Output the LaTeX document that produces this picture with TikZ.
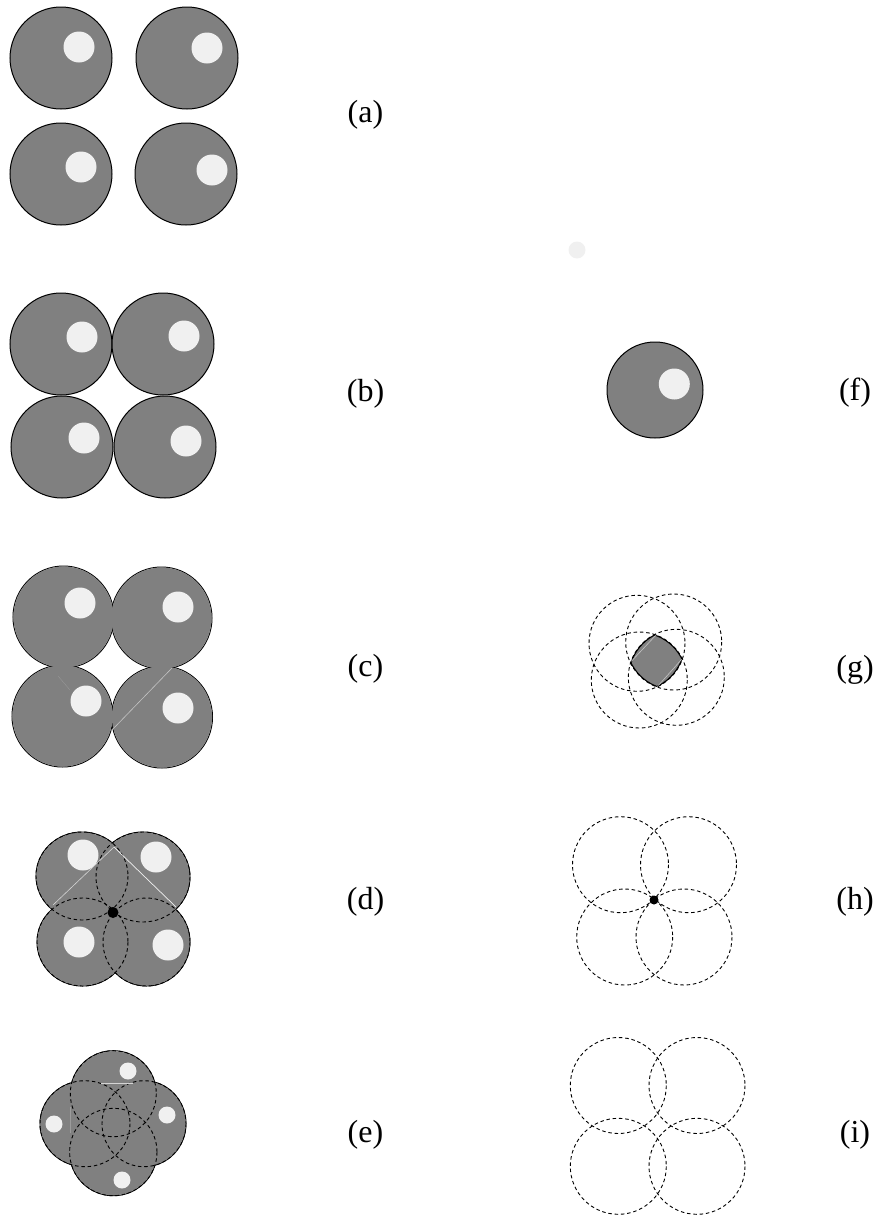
\documentclass[tikz,border=0pt]{standalone}
\usepackage{fontspec}
\setmainfont{Liberation Serif}
\definecolor{ballgray}{HTML}{808080}
\definecolor{spot}{HTML}{F0F0F0}
\tikzset{
 outl/.style={draw=black,line width=1pt},
 inner/.style={fill=ballgray,draw=none},
 dsh/.style={draw=black,line width=0.9pt,dash pattern=on 3.5pt off 2.8pt},
 spotdisk/.style={fill=spot,draw=none},
 lab/.style={font=\fontsize{32}{32}\selectfont,inner sep=0pt,anchor=center},
 seam/.style={draw=spot,line width=0.7pt},
}
\newcommand{\ball}[3]{%
 \fill[ballgray] (#1,#2) circle[radius=#3];
 \draw[outl] (#1,#2) circle[radius=#3];}
\newcommand{\spotat}[3]{\fill[spotdisk] (#1,#2) circle[radius=#3];}
\newcommand{\elo}[4]{\draw[outl] (#1,#2) ellipse[x radius=#3,y radius=#4];}
\newcommand{\elf}[4]{\fill[inner] (#1,#2) ellipse[x radius=#3-0.4,y radius=#4-0.4];}
\newcommand{\eld}[4]{\draw[dsh] (#1,#2) ellipse[x radius=#3,y radius=#4];}
\begin{document}
\begin{tikzpicture}[x=1pt,y=-1pt]
\useasboundingbox (0,0) rectangle (883,1216);
% (a)
\ball{61}{58}{51}\ball{187}{58}{51}\ball{61}{174}{51}\ball{186}{174}{51}
\spotat{79}{47}{15.5}\spotat{207}{48}{15.5}\spotat{81}{167}{15.5}\spotat{212}{170}{15.5}
% (b)
\ball{61}{344}{51}\ball{163}{344}{51}\ball{62}{447}{51}\ball{165}{447}{51}
\spotat{82}{337}{15.5}\spotat{184}{336}{15.5}\spotat{84}{438}{15.5}\spotat{186}{441}{15.5}
% (c)
\elo{63.5}{617}{50.5}{51}\elo{161.5}{618}{50.5}{51}\elo{62.5}{716}{50.5}{51}\elo{162}{717}{50.5}{51}
\elf{63.5}{617}{50.5}{51}\elf{161.5}{618}{50.5}{51}\elf{62.5}{716}{50.5}{51}\elf{162}{717}{50.5}{51}
\draw[draw=spot!60!ballgray,line width=0.6pt] (172,668) -- (112,730);
\draw[draw=spot!20!ballgray,line width=0.4pt] (58,676) -- (70,690);
\spotat{80}{603}{15.5}\spotat{178}{607}{15.5}\spotat{86}{701}{15.5}\spotat{178}{708}{15.5}
% (d)
\elo{82}{876}{46}{44}\elo{143}{877}{47}{45}\elo{82.5}{942}{45.5}{44}\elo{146.5}{942}{43.5}{44}
\elf{82}{876}{46}{44}\elf{143}{877}{47}{45}\elf{82.5}{942}{45.5}{44}\elf{146.5}{942}{43.5}{44}
\eld{82}{876}{46}{44}\eld{143}{877}{47}{45}\eld{82.5}{942}{45.5}{44}\eld{146.5}{942}{43.5}{44}
\spotat{83}{855}{15.5}\spotat{156}{857}{15.5}\spotat{79}{942}{15.5}\spotat{168}{945}{15.5}
\draw[draw=spot!75!ballgray,line width=0.6pt] (53,905) -- (114,847);
\draw[seam] (114,847) -- (176,907);
\fill[black] (113,912.5) circle[radius=5.5];
% (e)
\elo{113.3}{1093.7}{43}{43}\elo{113.3}{1152}{43.7}{43.7}\elo{85}{1123.7}{45}{43}\elo{144}{1123.7}{42}{43}
\elf{113.3}{1093.7}{43}{43}\elf{113.3}{1152}{43.7}{43.7}\elf{85}{1123.7}{45}{43}\elf{144}{1123.7}{42}{43}
\eld{113.3}{1093.7}{43}{43}\eld{113.3}{1152}{43.7}{43.7}\eld{85}{1123.7}{45}{43}\eld{144}{1123.7}{42}{43}
\draw[draw=spot!75!ballgray,line width=0.6pt] (101,1083.5) -- (133,1083.5);
\draw[draw=spot!25!ballgray,line width=0.5pt] (70,1107) -- (70,1133);
\spotat{128}{1071}{8.5}\spotat{167}{1115}{8.5}\spotat{54}{1124}{8.5}\spotat{122}{1180}{8.5}
% stray spot and (f)
\spotat{577}{250}{8.5}
\ball{655}{390}{48}
\spotat{674.3}{384}{15.5}
% (g)
\begin{scope}
\clip (637,643.3) circle[radius=48];
\clip (673.7,642) circle[radius=48];
\clip (639.3,680) circle[radius=48];
\clip (676.3,677.3) circle[radius=48];
\fill[ballgray] (570,580) rectangle (740,750);
\draw[black,line width=2pt] (637,643.3) circle[radius=48] (673.7,642) circle[radius=48] (639.3,680) circle[radius=48] (676.3,677.3) circle[radius=48];
\end{scope}
\draw[draw=spot!60!ballgray,line width=0.6pt] (631,661.7) -- (656.7,634.3);
\draw[draw=spot!60!ballgray,line width=0.6pt] (657.3,686.7) -- (681.7,659.3);
\eld{637}{643.3}{48}{48}\eld{673.7}{642}{48}{48}\eld{639.3}{680}{48}{48}\eld{676.3}{677.3}{48}{48}
% (h)
\eld{620.5}{864.7}{48}{48}\eld{688.5}{864.7}{48}{48}\eld{624.7}{937}{48}{48}\eld{684}{937}{48}{48}
\fill[black] (654,900) circle[radius=4.5];
% (i)
\eld{618.3}{1085.5}{48}{48}\eld{697}{1085.5}{48}{48}\eld{618.3}{1166.3}{48}{48}\eld{697}{1166.3}{48}{48}
% labels
\node[lab] (la) at (365.5,114.5) {(a)};
\node[lab] (lb) at (365.5,393.5) {(b)};
\node[lab] (lc) at (365.5,669) {(c)};
\node[lab] (ld) at (365.5,901.5) {(d)};
\node[lab] (le) at (365.5,1134.5) {(e)};
\node[lab] (lf) at (855,392.5) {(f)};
\node[lab] (lg) at (855,669.5) {(g)};
\node[lab] (lh) at (855,901.5) {(h)};
\node[lab] (li) at (855,1134.5) {(i)};
\end{tikzpicture}
\end{document}
